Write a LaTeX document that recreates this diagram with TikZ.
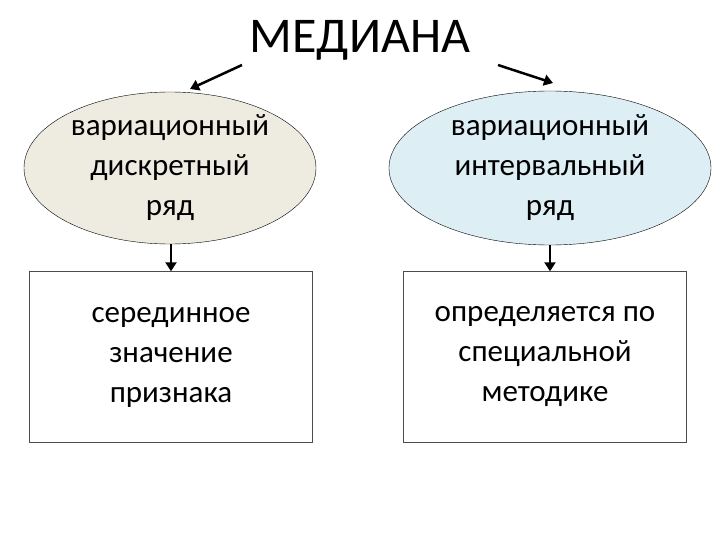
\documentclass[tikz,border=0pt]{standalone}
\usepackage{fontspec}
\setmainfont{Carlito}
\usetikzlibrary{shapes.geometric,arrows.meta}
\begin{document}
\begin{tikzpicture}[x=1pt,y=-1pt,
  ell/.style={draw=black,thin,ellipse,inner sep=0pt,align=center,font=\fontsize{31}{40}\selectfont},
  bx/.style={draw=black!70,thin,minimum width=283pt,minimum height=171pt,align=center,font=\fontsize{31}{40}\selectfont},
  arr/.style={-{Triangle[length=9pt,width=11pt]},line width=2.5pt}]
\useasboundingbox (0,0) rectangle (720,540);
\node (t) at (360,40) {\fontsize{50}{56}\selectfont МЕДИАНА};
\node[ell,fill={rgb,255:red,238;green,236;blue,225},minimum width=292pt,minimum height=152pt] (e1) at (170,168) {вариационный\\дискретный\\ряд};
\node[ell,fill={rgb,255:red,221;green,238;blue,244},minimum width=322pt,minimum height=154pt] (e2) at (550,168) {вариационный\\интервальный\\ряд};
\node[bx] (b1) at (171,357) {серединное\\значение\\признака};
\node[bx] (b2) at (545,357) {определяется по\\специальной\\методике};
\coordinate (l1) at (242,65); \coordinate (l2) at (190,89);
\coordinate (r1) at (498,65); \coordinate (r2) at (553,83);
\draw[arr] (l1) -- (l2);
\draw[arr] (r1) -- (r2);
\draw[arr] (e1.south -| b1.north) -- (b1.north);
\draw[arr] (e2.south -| 550,0) -- (b2.north -| 550,0);
\end{tikzpicture}
\end{document}
